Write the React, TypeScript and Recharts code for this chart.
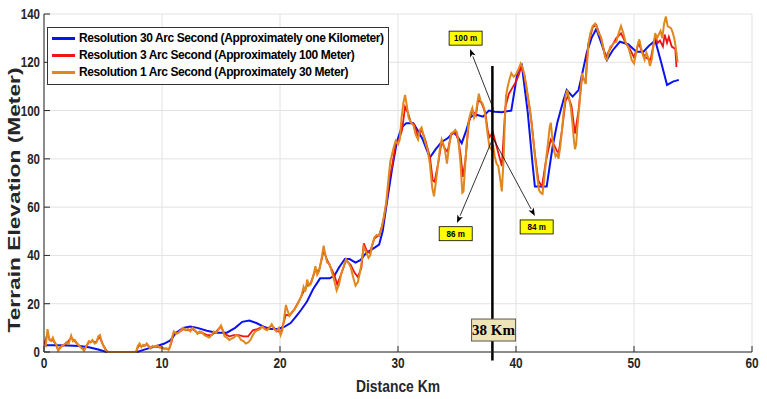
import React from 'react'
import {
  LineChart,
  Line,
  XAxis,
  YAxis,
  CartesianGrid,
  ReferenceLine,
  ReferenceDot,
  Legend,
} from 'recharts'

const xTicks = [0, 10, 20, 30, 40, 50, 60]
const yTicks = [0, 20, 40, 60, 80, 100, 120, 140]

// [distance km, elevation m]
const blue30Arc: [number, number][] = [
  [0, 2.8], [1, 2.8], [2, 2.7], [3, 2.5], [3.8, 2], [4.6, 1], [5.3, 0], [7.9, 0],
  [8.5, 1], [9, 1.7], [9.6, 2.5], [10.2, 3.5], [10.7, 4.8], [11.2, 8], [11.8, 10],
  [12.4, 10.6], [13, 10], [13.8, 8.8], [14.6, 8], [15.5, 8], [16.2, 10], [16.8, 12.5],
  [17.4, 13], [18, 12], [18.6, 10.5], [19.2, 9.5], [19.8, 9.5], [20.4, 10.5], [20.9, 12],
  [21.4, 15], [21.8, 17.5], [22.3, 21], [22.8, 26], [23.4, 30.5], [24.2, 30.5], [24.6, 31.5],
  [25, 35], [25.5, 38.5], [25.9, 38.5], [26.4, 37], [26.8, 38], [27.3, 41], [27.8, 42.5],
  [28.4, 44.5], [28.7, 50], [29, 60], [29.5, 76], [29.9, 87], [30.3, 93], [30.7, 94.8],
  [31.3, 94.8], [31.7, 91.5], [32.1, 88], [32.7, 80.5], [33.2, 84], [33.7, 87], [34.2, 88.5],
  [34.7, 91], [35, 89.5], [35.4, 86.5], [35.8, 92], [36.1, 97], [36.5, 98.5], [37.2, 97.5],
  [37.7, 100], [38.2, 99.5], [38.8, 99.3], [39.6, 100], [40.1, 115], [40.5, 118.5], [41, 99],
  [41.4, 78], [41.6, 68.5], [42.6, 68.5], [43.1, 85], [43.5, 95], [44, 104], [44.3, 108.5],
  [44.8, 105.8], [45.3, 108.5], [45.6, 115], [46, 124], [46.4, 130], [46.8, 133.8], [47.3, 127],
  [47.7, 121], [48.2, 125], [48.8, 128.5], [49.5, 127.5], [50.2, 124.4], [50.8, 124.4],
  [51.3, 127], [51.8, 129], [52.3, 120], [52.8, 110.6], [53.3, 112], [53.8, 112.7],
]

const red3Arc: [number, number][] = [
  [0, 3], [0.3, 7.5], [0.5, 5], [0.7, 5], [0.9, 4], [1.2, 1], [1.5, 2.5], [1.9, 3.5], [2.3, 6],
  [2.6, 4.5], [3, 2.5], [3.4, 1], [3.8, 4], [4.1, 4.5], [4.4, 4], [4.7, 6.5], [5, 3], [5.3, 0.5],
  [5.5, 0], [7.8, 0], [8, 2.5], [8.4, 2.5], [8.7, 3.2], [9, 1.8], [9.4, 2.2], [9.8, 2], [10.2, 1.5],
  [10.6, 1.2], [10.8, 4], [11, 8], [11.4, 8], [11.8, 9.5], [12.2, 9], [12.6, 9.5], [13, 8],
  [13.4, 8], [13.8, 7], [14.2, 7], [14.6, 8.5], [15, 10.5], [15.3, 7.5], [15.7, 6.5], [16.1, 7],
  [16.5, 7], [16.9, 6.5], [17.3, 6.5], [17.7, 9], [18.1, 9.5], [18.5, 10.5], [18.9, 9.5],
  [19.3, 11], [19.7, 9], [20.05, 8], [20.3, 12], [20.5, 15.5], [20.8, 15], [21.2, 17.5],
  [21.6, 21], [22, 25], [22.3, 27.5], [22.6, 28.5], [23, 34], [23.3, 33.5], [23.7, 42], [24, 38],
  [24.3, 35], [24.6, 32], [24.85, 28], [25.2, 32.5], [25.6, 38], [26, 36], [26.3, 33], [26.6, 31],
  [26.9, 35], [27.1, 45], [27.35, 42], [27.6, 41], [28, 47], [28.4, 48.5], [28.7, 53], [29, 61],
  [29.3, 73], [29.5, 77], [29.8, 86], [30.1, 88], [30.35, 92], [30.6, 101.5], [30.85, 99],
  [31.1, 95], [31.4, 94], [31.7, 89], [32, 92], [32.3, 88], [32.7, 81], [32.95, 71], [33.1, 70.5],
  [33.4, 78], [33.7, 87], [34, 84], [34.2, 83], [34.5, 90], [34.85, 91], [35.1, 88], [35.3, 82],
  [35.5, 72.5], [35.7, 79], [36, 95], [36.3, 100], [36.6, 98], [36.8, 104.5], [37.1, 103],
  [37.4, 99], [37.6, 92], [37.75, 89], [37.9, 90], [38.05, 91], [38.2, 88], [38.5, 82.5],
  [38.8, 77], [39.1, 101.5], [39.4, 107], [39.7, 109.5], [40, 112], [40.25, 115], [40.45, 118.5],
  [40.7, 115], [41, 106], [41.3, 96], [41.6, 82], [41.9, 71], [42.2, 68.5], [42.5, 78],
  [42.75, 84], [42.95, 88], [43.2, 86], [43.6, 82], [43.9, 92], [44.2, 104], [44.4, 106],
  [44.7, 102], [45, 90.5], [45.3, 100], [45.6, 114], [45.9, 112], [46.1, 127], [46.5, 134.5],
  [46.8, 135.5], [47.2, 130], [47.6, 122], [47.8, 124], [48.1, 126.5], [48.5, 130], [48.9, 132],
  [49.3, 128], [49.7, 125], [50, 122], [50.4, 128], [50.7, 124], [51, 122], [51.4, 121],
  [51.8, 131], [52, 128], [52.2, 129], [52.45, 126.5], [52.6, 131.5], [52.8, 128], [52.95, 130.5],
  [53.2, 126.5], [53.5, 125.5], [53.6, 118],
]

const orange1Arc: [number, number][] = [
  [0, 3], [0.15, 2.5], [0.3, 9.5], [0.45, 5], [0.6, 4.5], [0.75, 6], [0.9, 4], [1.05, 3],
  [1.2, 0.5], [1.35, 1.5], [1.5, 2.5], [1.7, 3], [1.9, 4], [2.1, 3.5], [2.3, 6.8], [2.45, 4.5],
  [2.6, 5], [2.8, 3.5], [3, 2.5], [3.2, 1.5], [3.4, 0.5], [3.6, 2.5], [3.8, 4.5], [3.95, 4],
  [4.1, 5], [4.3, 3.5], [4.45, 4], [4.6, 6.5], [4.75, 7], [4.9, 4], [5.05, 2.5], [5.2, 1],
  [5.4, 0], [5.6, 0], [7.8, 0], [7.95, 2.5], [8.1, 3.5], [8.25, 2], [8.4, 3], [8.55, 2.5],
  [8.7, 3.5], [8.85, 2.5], [9, 1.5], [9.2, 2.5], [9.4, 2], [9.6, 2.8], [9.8, 1.8], [10, 2],
  [10.2, 1.2], [10.4, 1.5], [10.55, 0.8], [10.7, 2.5], [10.85, 6], [11, 8.5], [11.2, 7.5],
  [11.4, 8], [11.6, 9], [11.8, 10], [12, 9], [12.2, 9.5], [12.4, 8.5], [12.6, 10], [12.8, 9],
  [13, 7.5], [13.2, 8.5], [13.4, 8], [13.6, 7], [13.8, 6.5], [14, 6], [14.2, 7], [14.4, 8.5],
  [14.6, 8], [14.8, 9.5], [15, 11], [15.15, 9], [15.3, 6.5], [15.5, 6], [15.7, 5], [15.9, 5.5],
  [16.1, 6], [16.3, 7], [16.5, 6.5], [16.7, 5], [16.9, 4.5], [17.1, 3.5], [17.3, 4], [17.5, 5],
  [17.7, 7], [17.9, 8.5], [18.1, 9], [18.3, 9.5], [18.5, 10.5], [18.7, 9.5], [18.9, 9],
  [19.1, 10], [19.3, 11.5], [19.5, 9.5], [19.7, 8.5], [19.9, 10], [20.05, 7], [20.2, 9],
  [20.35, 14], [20.5, 19.5], [20.65, 17], [20.8, 15], [21, 16.5], [21.2, 17.5], [21.4, 19],
  [21.6, 21], [21.8, 23], [22, 27], [22.15, 25], [22.3, 30], [22.45, 27.5], [22.6, 28],
  [22.8, 31], [23, 35.5], [23.15, 32], [23.3, 33.5], [23.5, 38], [23.7, 44], [23.85, 40],
  [24, 37], [24.2, 36.5], [24.4, 33], [24.6, 29.5], [24.8, 25.5], [25, 28], [25.2, 32.5],
  [25.4, 35.5], [25.6, 38.5], [25.8, 37], [26, 35], [26.2, 31], [26.4, 27.5], [26.6, 29],
  [26.8, 33.5], [27, 40], [27.1, 43.5], [27.3, 41.5], [27.5, 39], [27.65, 40], [27.8, 44],
  [28, 47.5], [28.2, 48.5], [28.4, 48], [28.6, 51], [28.8, 56], [29, 62], [29.2, 72],
  [29.35, 79], [29.5, 82], [29.65, 85], [29.8, 87.5], [30, 86], [30.15, 88], [30.3, 97],
  [30.45, 103], [30.6, 106.5], [30.75, 102], [30.9, 97], [31.1, 95], [31.3, 94], [31.5, 90],
  [31.7, 88], [31.85, 92], [32, 93], [32.15, 90], [32.3, 87], [32.5, 84], [32.7, 78], [32.9, 68],
  [33.05, 64.5], [33.2, 70], [33.4, 78], [33.55, 84], [33.7, 88], [33.85, 86], [34, 83],
  [34.15, 78], [34.3, 84], [34.5, 90.5], [34.7, 91], [34.85, 92], [35, 91], [35.15, 86],
  [35.3, 78], [35.45, 66], [35.55, 66.5], [35.7, 78], [35.85, 88], [36, 96], [36.15, 99],
  [36.3, 101], [36.45, 97], [36.6, 99], [36.75, 104], [36.85, 107], [37, 104], [37.15, 103],
  [37.3, 101], [37.45, 96], [37.6, 90], [37.75, 85], [37.9, 84], [38.05, 86], [38.2, 81],
  [38.35, 78], [38.5, 77], [38.65, 72], [38.8, 66.5], [38.95, 80], [39.05, 95], [39.15, 106],
  [39.3, 110], [39.45, 113], [39.6, 115.5], [39.8, 114], [40, 115], [40.2, 117], [40.4, 119.5],
  [40.55, 118], [40.7, 115], [40.85, 111], [41, 106], [41.2, 100], [41.35, 93], [41.5, 86],
  [41.65, 79], [41.8, 72.5], [41.95, 67], [42.1, 66], [42.25, 65.5], [42.4, 72], [42.55, 80],
  [42.7, 86], [42.85, 93], [42.95, 95], [43.05, 90], [43.2, 84], [43.35, 81], [43.5, 82],
  [43.6, 80], [43.75, 85], [43.9, 92], [44.05, 100], [44.2, 106], [44.35, 108.5], [44.5, 105],
  [44.65, 101], [44.8, 94], [44.9, 88], [45, 84], [45.1, 86], [45.2, 93], [45.35, 101],
  [45.5, 110], [45.6, 115.5], [45.75, 113], [45.9, 111], [46, 118], [46.15, 128], [46.3, 132],
  [46.5, 135], [46.7, 136], [46.85, 134.5], [47, 132], [47.2, 130.5], [47.4, 126], [47.55, 122],
  [47.7, 121], [47.85, 124], [48, 126.5], [48.15, 127], [48.3, 128], [48.5, 128.5], [48.7, 132],
  [48.9, 135], [49.1, 132], [49.3, 128], [49.5, 126.5], [49.65, 124], [49.8, 121], [50, 119.5],
  [50.15, 123], [50.3, 127], [50.45, 129.5], [50.6, 126], [50.75, 123], [50.9, 121], [51.05, 124],
  [51.2, 122], [51.35, 118.5], [51.5, 121], [51.65, 127], [51.8, 132], [51.95, 130], [52.1, 131.5],
  [52.25, 133], [52.4, 130], [52.55, 136], [52.7, 139], [52.85, 135], [53, 134.5], [53.15, 134],
  [53.3, 132], [53.45, 129], [53.6, 124], [53.7, 120],
]

const seriesNames = [
  'Resolution 30 Arc Second (Approximately one Kilometer)',
  'Resolution 3 Arc Second (Approximately 100 Meter)',
  'Resolution 1 Arc Second (Approximately 30 Meter)',
]
const seriesColors = ['#0a12ee', '#f01414', '#e0881e']
const noteLabels = ['100 m', '86 m', '84 m']
const markerLabel = '38 Km'

const sans = "'Liberation Sans', Arial, sans-serif"
const axisColor = '#262626'

const toRows = (pts: [number, number][]) => pts.map(([km, m]) => ({ km, m }))

// squeezed bold labels, the original uses a narrow face
const XTick = (props: any) => {
  const { x, y, payload } = props
  const s = String(payload.value)
  return (
    <text x={x} y={y} dy="0.71em" textAnchor="middle" fontSize={14} fontWeight="bold" fontFamily={sans} fill={axisColor} textLength={s.length * 6.6} lengthAdjust="spacingAndGlyphs">
      {s}
    </text>
  )
}

const YTick = (props: any) => {
  const { x, y, payload } = props
  const s = String(payload.value)
  return (
    <text x={x} y={y} dy="0.36em" textAnchor="end" fontSize={14} fontWeight="bold" fontFamily={sans} fill={axisColor} textLength={s.length * 6.4} lengthAdjust="spacingAndGlyphs">
      {s}
    </text>
  )
}

const Arrow = (props: any) => {
  const { x1, y1, x2, y2 } = props
  const ang = Math.atan2(y2 - y1, x2 - x1)
  const len = 8
  const half = 3
  const bx = x2 - len * Math.cos(ang)
  const by = y2 - len * Math.sin(ang)
  const pts = [
    `${x2},${y2}`,
    `${bx + half * Math.sin(ang)},${by - half * Math.cos(ang)}`,
    `${bx + 2 * Math.cos(ang)},${by + 2 * Math.sin(ang)}`,
    `${bx - half * Math.sin(ang)},${by + half * Math.cos(ang)}`,
  ].join(' ')
  return (
    <g>
      <line x1={x1} y1={y1} x2={bx} y2={by} stroke="#000" strokeWidth={0.8} />
      <polygon points={pts} fill="#000" />
    </g>
  )
}

const noteBox = (text: string) => (props: any) => {
  const { cx, cy } = props
  return (
    <g>
      <rect x={cx - 16.5} y={cy - 7} width={33} height={14} fill="#ffff00" stroke="#000" strokeWidth={0.8} />
      <text x={cx} y={cy} dy="0.35em" textAnchor="middle" fontSize={9} fontWeight="bold" fontFamily={sans} fill="#000" textLength={text.length * 4.6} lengthAdjust="spacingAndGlyphs">
        {text}
      </text>
    </g>
  )
}

const markerBox = (props: any) => {
  const { cx, cy } = props
  return (
    <g>
      <rect x={cx - 22} y={cy - 11} width={44} height={22} fill="#efe4b6" stroke="#555" strokeWidth={1} />
      <text x={cx} y={cy} dy="0.36em" textAnchor="middle" fontSize={15} fontWeight="bold" fontFamily="'Liberation Serif', 'Times New Roman', serif" fill="#000">
        {markerLabel}
      </text>
    </g>
  )
}

const renderLegend = () => (
  <div
    style={{
      border: '1px solid #333',
      background: '#fff',
      padding: '2px 4px 3px 4px',
      fontFamily: sans,
      fontWeight: 'bold',
      fontSize: 12,
      letterSpacing: '-0.4px',
      color: '#000',
      lineHeight: '17px',
      whiteSpace: 'nowrap',
    }}
  >
    {seriesNames.map((name, i) => (
      <div key={name} style={{ display: 'flex', alignItems: 'center' }}>
        <span style={{ display: 'inline-block', width: 23, height: 2.5, background: seriesColors[i], marginRight: 4 }} />
        <span>{name}</span>
      </div>
    ))}
  </div>
)

export default function App() {
  return (
    <div style={{ position: 'absolute', left: 0, top: 0, width: 767, height: 399, background: '#fff' }}>
      <LineChart width={767} height={399} margin={{ top: 14, right: 15, bottom: 17, left: 0 }}>
        <CartesianGrid stroke="#e2e2e2" strokeWidth={1} />
        <XAxis
          dataKey="km"
          type="number"
          domain={[0, 60]}
          ticks={xTicks}
          allowDataOverflow
          height={30}
          stroke={axisColor}
          tickSize={-6}
          tickMargin={12}
          tick={XTick}
          label={{
            content: (p: any) => (
              <text
                x={p.viewBox.x + p.viewBox.width / 2}
                y={392}
                textAnchor="middle"
                fontSize={17}
                fontWeight="bold"
                fontFamily={sans}
                fill={axisColor}
                textLength={84}
                lengthAdjust="spacingAndGlyphs"
              >
                Distance Km
              </text>
            ),
          }}
        />
        <XAxis xAxisId="top" orientation="top" type="number" domain={[0, 60]} ticks={xTicks} height={0} stroke={axisColor} tickSize={-6} tick={false} />
        <YAxis
          type="number"
          domain={[0, 140]}
          ticks={yTicks}
          width={44}
          stroke={axisColor}
          tickSize={-6}
          tickMargin={10}
          tick={YTick}
          label={{
            content: () => (
              <text
                x={14}
                y={200}
                transform="rotate(-90 14 200)"
                textAnchor="middle"
                dy="0.35em"
                fontSize={17}
                fontWeight="bold"
                fontFamily={sans}
                fill={axisColor}
                textLength={265}
                lengthAdjust="spacingAndGlyphs"
              >
                Terrain Elevation (Meter)
              </text>
            ),
          }}
        />
        <YAxis yAxisId="right" orientation="right" type="number" domain={[0, 140]} ticks={yTicks} width={0} stroke={axisColor} tickSize={-6} tick={false} />
        <Line data={toRows(blue30Arc)} dataKey="m" name={seriesNames[0]} stroke={seriesColors[0]} strokeWidth={2} dot={false} isAnimationActive={false} />
        <Line data={toRows(red3Arc)} dataKey="m" name={seriesNames[1]} stroke={seriesColors[1]} strokeWidth={1.8} dot={false} isAnimationActive={false} />
        <Line data={toRows(orange1Arc)} dataKey="m" name={seriesNames[2]} stroke={seriesColors[2]} strokeWidth={2} dot={false} isAnimationActive={false} />
        <ReferenceLine segment={[{ x: 38, y: 118.5 }, { x: 38, y: -3.5 }]} stroke="#000" strokeWidth={2.5} ifOverflow="visible" />
        <ReferenceLine segment={[{ x: 38.1, y: 100.5 }, { x: 36.1, y: 125.5 }]} shape={Arrow} ifOverflow="visible" />
        <ReferenceLine segment={[{ x: 38.05, y: 88.6 }, { x: 35.0, y: 53.4 }]} shape={Arrow} ifOverflow="visible" />
        <ReferenceLine segment={[{ x: 38.05, y: 88.6 }, { x: 41.6, y: 56.3 }]} shape={Arrow} ifOverflow="visible" />
        <ReferenceDot x={35.73} y={130} shape={noteBox(noteLabels[0])} ifOverflow="visible" />
        <ReferenceDot x={34.89} y={49} shape={noteBox(noteLabels[1])} ifOverflow="visible" />
        <ReferenceDot x={41.75} y={51.8} shape={noteBox(noteLabels[2])} ifOverflow="visible" />
        <ReferenceDot x={38.1} y={9.1} shape={markerBox} ifOverflow="visible" />
        <Legend
          layout="vertical"
          align="center"
          verticalAlign="middle"
          wrapperStyle={{ left: 47, top: 27, width: 'auto', height: 'auto' }}
          content={renderLegend}
        />
      </LineChart>
    </div>
  )
}
